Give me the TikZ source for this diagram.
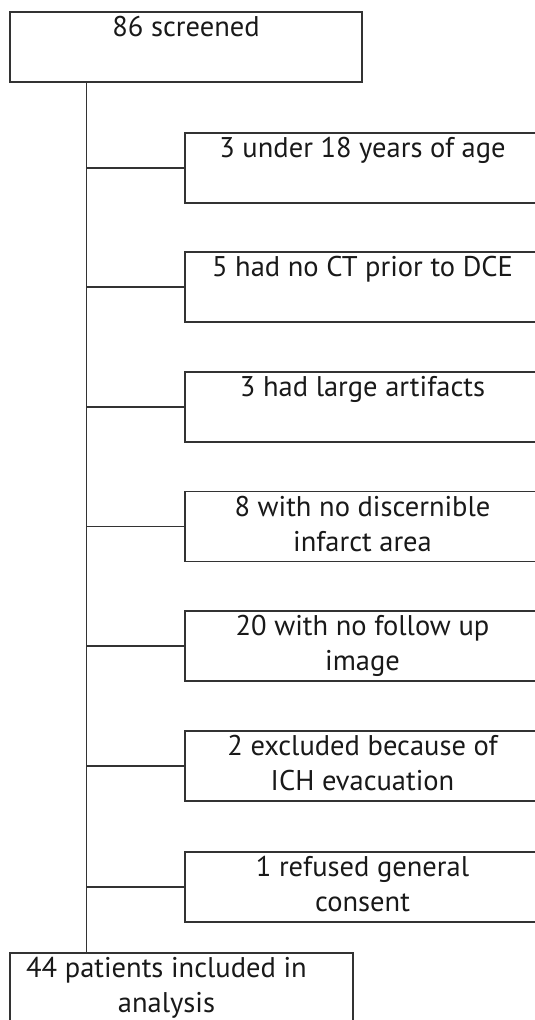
\documentclass[tikz,border=0pt]{standalone}
\usepackage{fontspec}
\setmainfont{PT Sans}
\begin{document}
\begin{tikzpicture}[x=1pt, y=-1pt]
\tikzset{boite/.style={draw=black!80, line width=1.3pt, inner xsep=2pt, inner ysep=0pt, minimum height=70pt, align=center, font=\fontsize{28.5}{35}\selectfont, text=black!90},
exclu/.style={boite, minimum width=355pt},
lien/.style={draw=black!80, line width=1.3pt}}
\useasboundingbox (0,0) rectangle (535,1020);
\clip (0,0) rectangle (535,1020);
\node[boite, minimum width=352pt] (S) at (186,47) {\strut 86 screened\\\strut};
\node[exclu] (E1) at (362.5,168) {\strut 3 under 18 years of age\\\strut};
\node[exclu] (E2) at (362.5,287) {\strut 5 had no CT prior to DCE\\\strut};
\node[exclu] (E3) at (362.5,407) {\strut 3 had large artifacts\\\strut};
\node[exclu] (E4) at (362.5,526.5) {\strut 8 with no discernible\\\strut infarct area};
\node[exclu] (E5) at (362.5,646) {\strut 20 with no follow up\\\strut image};
\node[exclu] (E6) at (362.5,766) {\strut 2 excluded because of\\\strut ICH evacuation};
\node[exclu] (E7) at (362.5,887) {\strut 1 refused general\\\strut consent};
\node[boite, minimum width=343pt] (I) at (181.5,988) {\strut 44 patients included in\hspace*{30pt}\\\strut analysis\hspace*{30pt}};
\coordinate (T) at ([xshift=77pt]S.south west);
\draw[lien] (T) -- (T |- I.north);
\draw[lien] (T |- E1.west) -- (E1.west);
\draw[lien] (T |- E2.west) -- (E2.west);
\draw[lien] (T |- E3.west) -- (E3.west);
\draw[lien] (T |- E4.west) -- (E4.west);
\draw[lien] (T |- E5.west) -- (E5.west);
\draw[lien] (T |- E6.west) -- (E6.west);
\draw[lien] (T |- E7.west) -- (E7.west);
\end{tikzpicture}
\end{document}
